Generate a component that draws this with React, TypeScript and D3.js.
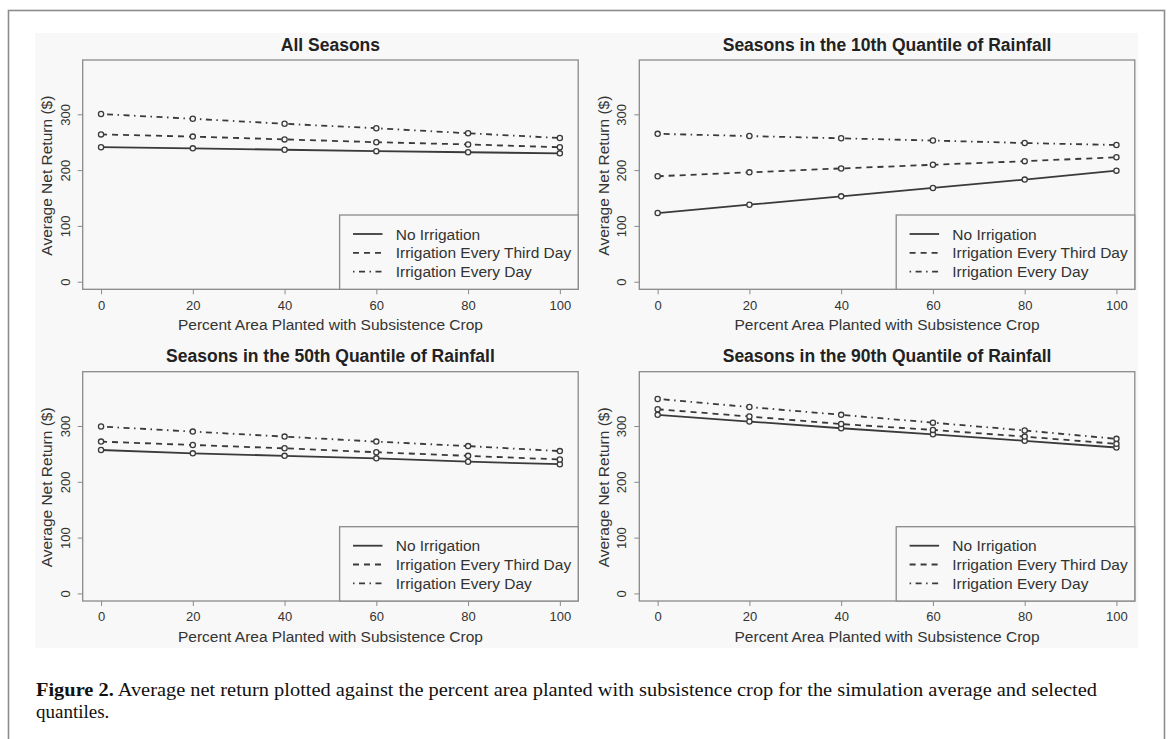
import { useRef, useEffect } from 'react';
import * as d3 from 'd3';

const WIDTH = 1168;
const HEIGHT = 739;

// x values shared by every panel
const percentArea = [0, 20, 40, 60, 80, 100];
const yTicks = [0, 100, 200, 300];

const panelTitles = [
  'All Seasons',
  'Seasons in the 10th Quantile of Rainfall',
  'Seasons in the 50th Quantile of Rainfall',
  'Seasons in the 90th Quantile of Rainfall',
];

const seriesNames = ['No Irrigation', 'Irrigation Every Third Day', 'Irrigation Every Day'];

// net return ($) per panel
const allNone = [241, 239, 236.5, 234, 232, 230];
const allThird = [264, 260, 255, 250, 246, 241];
const allDaily = [300.5, 292, 283, 275, 266, 257.5];

const q10None = [123, 138, 153, 168, 183, 199];
const q10Third = [189, 196, 203, 209.5, 216, 223];
const q10Daily = [265, 261, 257, 253, 248.5, 245];

const q50None = [257, 251, 246.5, 242, 236, 231.5];
const q50Third = [272, 266, 260, 253, 246.5, 240];
const q50Daily = [299, 290, 281, 272, 264, 255];

const q90None = [320, 308, 296, 285, 273.5, 261.5];
const q90Third = [330, 317, 303.5, 293, 281, 268];
const q90Daily = [348.5, 334, 320, 306, 292, 277];

const panelData = [
  [allNone, allThird, allDaily],
  [q10None, q10Third, q10Daily],
  [q50None, q50Third, q50Daily],
  [q90None, q90Third, q90Daily],
];

const captionBold = 'Figure 2.';
const captionLine1 =
  ' Average net return plotted against the percent area planted with subsistence crop for the simulation average and selected';
const captionLine2 = 'quantiles.';

// plot box positions (left, top) per panel
const BOXES = [
  { x: 82.7, y: 60 },
  { x: 639.3, y: 60 },
  { x: 82.7, y: 371.7 },
  { x: 639.3, y: 371.7 },
];
const BOX_W = 495.5;
const BOX_H = 229.3;

const DASHES = [null, '6,5', '1.5,4.5,6,4.5'];
const LINE_COLOR = '#3a3a3a';
const AXIS_COLOR = '#8a8a8a';
const TEXT_COLOR = '#333';
const BG = '#f8f8f8';
const SANS = '"Liberation Sans", Arial, sans-serif';
const SERIF = '"Liberation Serif", "Times New Roman", serif';

export default function App() {
  const svgRef = useRef<SVGSVGElement>(null);

  useEffect(() => {
    if (!svgRef.current) return;
    const svg = d3.select(svgRef.current);
    svg.selectAll('*').remove();

    svg.append('rect').attr('width', WIDTH).attr('height', HEIGHT).attr('fill', '#fff');
    // scanned figure backdrop
    svg.append('rect')
      .attr('x', 35).attr('y', 33).attr('width', 1103).attr('height', 615)
      .attr('fill', BG);
    // outer frame
    svg.append('rect')
      .attr('x', 8.5).attr('y', 10.5).attr('width', 1156).attr('height', 740)
      .attr('fill', 'none').attr('stroke', '#8c8c8c').attr('stroke-width', 1.6);

    const x = d3.scaleLinear().domain([-4, 104]).range([0, BOX_W]);
    const y = d3.scaleLinear().domain([-13.6, 397.3]).range([BOX_H, 0]);

    panelData.forEach((series, i) => {
      const box = BOXES[i];
      const g = svg.append('g').attr('transform', `translate(${box.x},${box.y})`);

      // title
      g.append('text')
        .attr('x', BOX_W / 2).attr('y', -9.5)
        .attr('text-anchor', 'middle')
        .attr('font-family', SANS).attr('font-size', '17.5px').attr('font-weight', 'bold')
        .attr('fill', '#222')
        .text(panelTitles[i]);

      // x axis
      g.append('g')
        .attr('transform', `translate(0,${BOX_H})`)
        .call(d3.axisBottom(x).tickValues(percentArea).tickSize(5).tickPadding(6).tickFormat(d3.format('d')))
        .call((sel) => {
          sel.select('.domain').remove();
          sel.selectAll('.tick line').attr('stroke', AXIS_COLOR);
          sel.selectAll('.tick text')
            .attr('fill', TEXT_COLOR).attr('font-size', '13px').attr('font-family', SANS);
        });

      // y axis, labels parallel to the axis as in R
      g.append('g')
        .call(d3.axisLeft(y).tickValues(yTicks).tickSize(5).tickFormat(d3.format('d')))
        .call((sel) => {
          sel.select('.domain').remove();
          sel.selectAll('.tick line').attr('stroke', AXIS_COLOR);
          sel.selectAll('.tick text')
            .attr('x', null).attr('dy', null)
            .attr('transform', 'translate(-17.7,0) rotate(-90)')
            .attr('text-anchor', 'middle')
            .attr('dominant-baseline', 'central')
            .attr('fill', TEXT_COLOR).attr('font-size', '13px').attr('font-family', SANS);
        });

      // axis titles
      g.append('text')
        .attr('x', BOX_W / 2).attr('y', BOX_H + 41)
        .attr('text-anchor', 'middle')
        .attr('font-family', SANS).attr('font-size', '15.5px').attr('fill', TEXT_COLOR)
        .text('Percent Area Planted with Subsistence Crop');
      g.append('text')
        .attr('transform', `translate(-36,${BOX_H / 2 + 1}) rotate(-90)`)
        .attr('text-anchor', 'middle')
        .attr('dominant-baseline', 'central')
        .attr('font-family', SANS).attr('font-size', '15.5px').attr('fill', TEXT_COLOR)
        .text('Average Net Return ($)');

      // lines and points
      series.forEach((vals, s) => {
        const pts = vals.map((v, k) => [percentArea[k], v] as [number, number]);
        const line = d3.line<[number, number]>().x((d) => x(d[0])).y((d) => y(d[1]));
        g.append('path')
          .datum(pts)
          .attr('d', line)
          .attr('fill', 'none')
          .attr('stroke', LINE_COLOR)
          .attr('stroke-width', 1.8)
          .attr('stroke-dasharray', DASHES[s]);
        g.append('g')
          .selectAll('circle')
          .data(pts)
          .join('circle')
          .attr('cx', (d) => x(d[0]))
          .attr('cy', (d) => y(d[1]))
          .attr('r', 2.6)
          .attr('fill', BG)
          .attr('stroke', LINE_COLOR)
          .attr('stroke-width', 1.3);
      });

      // plot box
      g.append('rect')
        .attr('width', BOX_W).attr('height', BOX_H)
        .attr('fill', 'none').attr('stroke', AXIS_COLOR).attr('stroke-width', 1.3);

      // legend
      const lg = g.append('g').attr('transform', `translate(256.9,155)`);
      lg.append('rect')
        .attr('width', BOX_W - 256.9).attr('height', BOX_H - 155)
        .attr('fill', BG).attr('stroke', AXIS_COLOR).attr('stroke-width', 1.3);
      seriesNames.forEach((name, s) => {
        const ry = 19 + s * 18.8;
        lg.append('line')
          .attr('x1', 13.4).attr('x2', 42.9).attr('y1', ry).attr('y2', ry)
          .attr('stroke', LINE_COLOR).attr('stroke-width', 1.8)
          .attr('stroke-dasharray', DASHES[s]);
        lg.append('text')
          .attr('x', 56.1).attr('y', ry)
          .attr('dominant-baseline', 'central')
          .attr('font-family', SANS).attr('font-size', '15.5px').attr('fill', TEXT_COLOR)
          .text(name);
      });
    });

    // caption
    const cap = svg.append('text')
      .attr('x', 36).attr('y', 696)
      .attr('font-family', SERIF)
      .attr('font-size', '19px').attr('fill', '#111')
      .attr('textLength', 1061).attr('lengthAdjust', 'spacingAndGlyphs');
    cap.append('tspan').attr('font-weight', 'bold').text(captionBold);
    cap.append('tspan').text(captionLine1);
    svg.append('text')
      .attr('x', 36).attr('y', 718)
      .attr('font-family', SERIF)
      .attr('font-size', '19px').attr('fill', '#111')
      .text(captionLine2);
  }, []);

  return (
    <svg
      ref={svgRef}
      width={WIDTH}
      height={HEIGHT}
      style={{ position: 'absolute', left: 0, top: 0, display: 'block' }}
    />
  );
}
